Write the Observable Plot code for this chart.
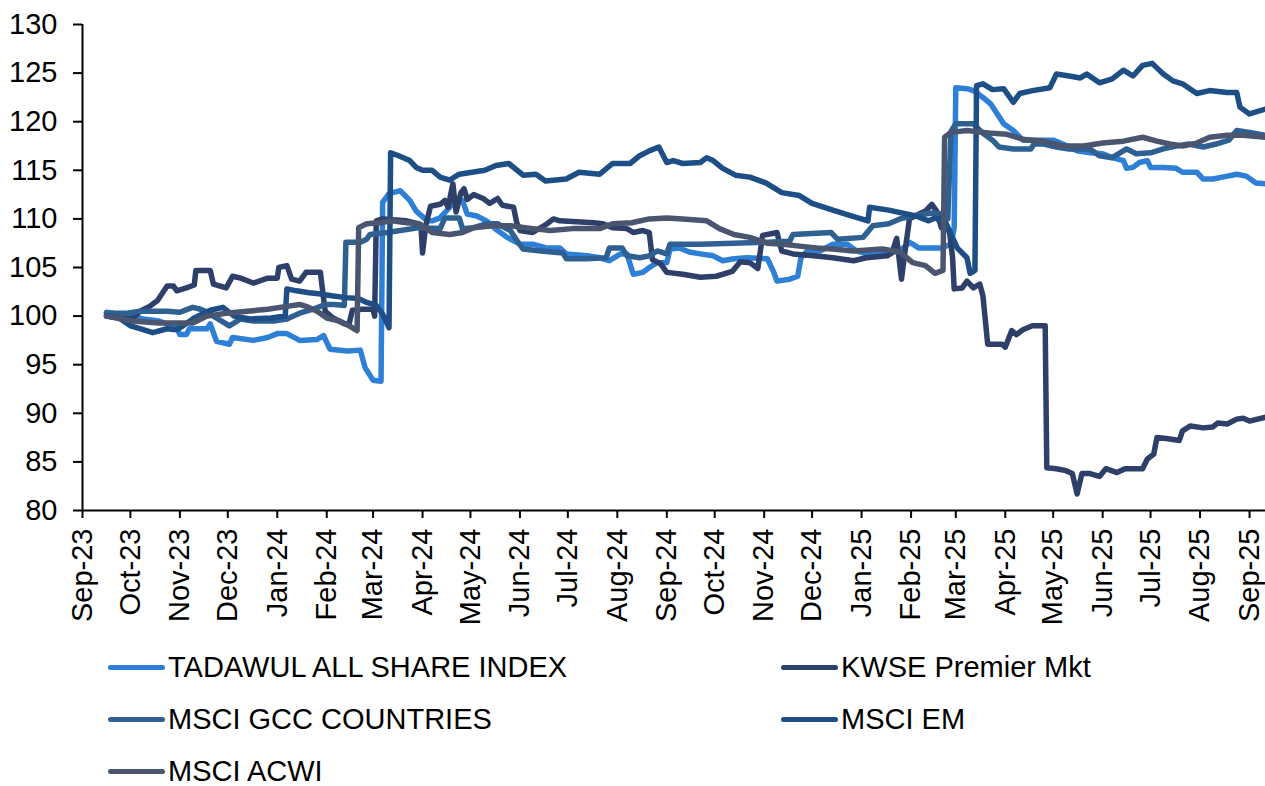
<!DOCTYPE html>
<html>
<head>
<meta charset="utf-8">
<script src="https://cdn.jsdelivr.net/npm/d3@7"></script>
<script src="https://cdn.jsdelivr.net/npm/@observablehq/plot@0.6"></script>
<style>
  body { margin: 0; background: #fff; }
  #chart { width: 1265px; font-family: "Liberation Sans", Arial, sans-serif; }
  .legend { display: grid; grid-template-columns: 673px auto; padding-left: 108px; padding-top: 1px; }
  .item { display: flex; align-items: center; height: 52px; font-size: 29px; line-height: 29px; color: #000; white-space: nowrap; }
  .sw { display: inline-block; width: 57px; height: 5px; border-radius: 3px; margin-right: 3px; }
</style>
</head>
<body>
<div id="chart"></div>
<script>
const seriesNames = ["TADAWUL ALL SHARE INDEX", "KWSE Premier Mkt", "MSCI GCC COUNTRIES", "MSCI EM", "MSCI ACWI"];
const seriesColors = ["#2E7FD6", "#2E3F6A", "#2E6192", "#1D4F86", "#4A5670"];

const tadawul = [
["2023-09-16",100.4],["2023-09-24",100.2],["2023-10-02",100.0],["2023-10-09",99.7],["2023-10-19",99.5],["2023-10-30",98.8],["2023-11-01",98.1],["2023-11-05",98.1],["2023-11-07",98.7],["2023-11-18",98.7],["2023-11-20",99.2],["2023-11-24",97.4],["2023-12-02",97.1],["2023-12-04",97.8],["2023-12-17",97.5],["2023-12-26",97.8],["2024-01-01",98.2],["2024-01-07",98.2],["2024-01-15",97.5],["2024-01-26",97.6],["2024-01-30",98.0],["2024-02-03",96.6],["2024-02-14",96.4],["2024-02-22",96.5],["2024-02-25",94.7],["2024-03-01",93.4],["2024-03-06",93.3],["2024-03-07",111.7],["2024-03-11",112.6],["2024-03-18",112.9],["2024-03-24",111.9],["2024-03-28",110.8],["2024-04-04",109.8],["2024-04-07",109.8],["2024-04-12",110.1],["2024-04-18",111.2],["2024-04-22",111.9],["2024-04-26",111.9],["2024-04-29",110.5],["2024-05-05",110.3],["2024-05-11",109.8],["2024-05-18",108.8],["2024-05-24",108.1],["2024-06-01",107.4],["2024-06-09",107.4],["2024-06-18",107.0],["2024-06-26",107.0],["2024-06-30",106.4],["2024-07-13",106.2],["2024-07-21",106.0],["2024-07-27",105.7],["2024-08-03",106.4],["2024-08-07",106.4],["2024-08-11",104.3],["2024-08-17",104.5],["2024-08-21",105.0],["2024-08-26",105.5],["2024-09-01",105.5],["2024-09-03",106.9],["2024-09-09",107.0],["2024-09-15",106.6],["2024-09-22",106.4],["2024-09-30",106.2],["2024-10-06",105.7],["2024-10-13",105.9],["2024-10-21",106.0],["2024-11-03",105.9],["2024-11-07",104.5],["2024-11-09",103.6],["2024-11-17",103.8],["2024-11-22",104.1],["2024-11-24",106.0],["2024-11-28",106.7],["2024-12-06",106.7],["2024-12-14",107.4],["2024-12-23",107.4],["2024-12-29",106.7],["2025-01-04",106.4],["2025-01-17",106.5],["2025-01-25",106.7],["2025-01-31",107.6],["2025-02-02",107.4],["2025-02-06",107.0],["2025-02-20",107.0],["2025-02-26",107.4],["2025-02-28",109.1],["2025-03-01",123.5],["2025-03-08",123.4],["2025-03-12",123.2],["2025-03-18",122.5],["2025-03-23",121.8],["2025-03-27",120.8],["2025-03-31",119.8],["2025-04-06",119.1],["2025-04-12",118.1],["2025-05-01",118.1],["2025-05-07",117.7],["2025-05-16",117.0],["2025-05-24",116.8],["2025-06-01",116.7],["2025-06-07",116.3],["2025-06-14",116.0],["2025-06-16",115.2],["2025-06-20",115.3],["2025-06-24",115.8],["2025-06-29",116.0],["2025-07-01",115.3],["2025-07-09",115.3],["2025-07-17",115.2],["2025-07-21",114.8],["2025-07-30",114.8],["2025-08-03",114.1],["2025-08-09",114.1],["2025-08-15",114.3],["2025-08-24",114.6],["2025-08-30",114.4],["2025-09-05",113.7],["2025-09-11",113.6]
];

const kwse = [
["2023-09-16",100.0],["2023-09-24",99.8],["2023-10-02",99.7],["2023-10-07",100.5],["2023-10-13",101.0],["2023-10-18",101.6],["2023-10-24",103.1],["2023-10-28",103.1],["2023-10-30",102.6],["2023-11-05",102.9],["2023-11-10",103.2],["2023-11-11",104.7],["2023-11-20",104.7],["2023-11-22",103.3],["2023-11-30",102.9],["2023-12-04",104.1],["2023-12-09",103.9],["2023-12-17",103.4],["2023-12-26",103.9],["2024-01-01",103.9],["2024-01-02",105.0],["2024-01-07",105.2],["2024-01-10",103.8],["2024-01-15",103.6],["2024-01-19",104.5],["2024-01-28",104.5],["2024-01-31",100.5],["2024-02-05",99.8],["2024-02-12",99.2],["2024-02-15",99.2],["2024-02-17",100.6],["2024-02-23",100.7],["2024-03-01",100.7],["2024-03-02",100.0],["2024-03-03",109.8],["2024-03-07",110.0],["2024-03-22",109.8],["2024-03-29",109.5],["2024-03-31",109.3],["2024-04-01",106.5],["2024-04-03",109.3],["2024-04-06",111.3],["2024-04-12",111.5],["2024-04-15",111.9],["2024-04-17",111.2],["2024-04-20",113.6],["2024-04-22",110.7],["2024-04-25",112.7],["2024-04-27",113.1],["2024-04-29",112.0],["2024-05-03",112.5],["2024-05-09",112.1],["2024-05-13",111.6],["2024-05-18",112.1],["2024-05-21",111.4],["2024-05-28",111.2],["2024-05-30",109.6],["2024-06-01",108.8],["2024-06-09",108.6],["2024-06-18",109.5],["2024-06-22",110.0],["2024-06-26",109.8],["2024-07-17",109.6],["2024-07-23",109.5],["2024-07-29",109.1],["2024-08-07",109.0],["2024-08-11",108.6],["2024-08-17",108.8],["2024-08-21",108.6],["2024-08-23",105.8],["2024-08-28",105.4],["2024-09-01",104.5],["2024-09-11",104.3],["2024-09-22",104.0],["2024-10-02",104.1],["2024-10-12",104.6],["2024-10-17",105.6],["2024-10-23",105.5],["2024-10-28",104.9],["2024-10-31",108.3],["2024-11-06",108.5],["2024-11-09",108.6],["2024-11-12",106.7],["2024-11-19",106.4],["2024-12-02",106.2],["2024-12-14",106.0],["2024-12-27",105.7],["2025-01-04",106.0],["2025-01-17",106.2],["2025-01-20",106.5],["2025-01-23",108.0],["2025-01-26",103.8],["2025-01-28",106.4],["2025-01-31",110.0],["2025-02-06",110.5],["2025-02-10",110.8],["2025-02-14",111.5],["2025-02-17",110.8],["2025-02-20",109.1],["2025-02-25",108.8],["2025-02-27",106.0],["2025-02-28",102.8],["2025-03-05",102.9],["2025-03-08",103.6],["2025-03-12",102.9],["2025-03-16",103.3],["2025-03-18",102.1],["2025-03-21",97.1],["2025-03-30",97.1],["2025-04-01",96.8],["2025-04-05",98.5],["2025-04-08",98.1],["2025-04-12",98.6],["2025-04-18",99.0],["2025-04-26",99.0],["2025-04-27",84.4],["2025-05-03",84.3],["2025-05-09",84.1],["2025-05-13",83.8],["2025-05-16",81.7],["2025-05-19",83.8],["2025-05-24",83.8],["2025-05-30",83.5],["2025-06-03",84.3],["2025-06-10",83.9],["2025-06-15",84.3],["2025-06-26",84.3],["2025-06-29",85.3],["2025-07-03",85.8],["2025-07-05",87.5],["2025-07-11",87.4],["2025-07-19",87.2],["2025-07-21",88.2],["2025-07-26",88.7],["2025-08-03",88.5],["2025-08-09",88.6],["2025-08-12",89.0],["2025-08-18",88.9],["2025-08-24",89.4],["2025-08-28",89.5],["2025-09-01",89.2],["2025-09-11",89.6]
];

const gcc = [
["2023-09-16",100.3],["2023-09-29",100.3],["2023-10-07",100.5],["2023-10-24",100.5],["2023-11-01",100.4],["2023-11-09",100.9],["2023-11-14",100.7],["2023-11-20",100.3],["2023-11-22",100.0],["2023-12-02",99.0],["2023-12-09",99.7],["2023-12-17",99.5],["2023-12-30",99.5],["2024-01-07",99.7],["2024-01-15",100.3],["2024-01-25",100.8],["2024-01-31",101.2],["2024-02-06",101.2],["2024-02-12",101.1],["2024-02-13",107.6],["2024-02-22",107.6],["2024-02-26",107.9],["2024-02-28",108.4],["2024-03-10",108.6],["2024-03-18",108.8],["2024-03-30",109.1],["2024-04-12",109.0],["2024-04-15",110.1],["2024-04-24",110.1],["2024-04-26",109.0],["2024-05-03",109.1],["2024-05-11",109.5],["2024-05-18",109.5],["2024-05-26",108.8],["2024-05-30",107.8],["2024-06-03",106.9],["2024-06-14",106.7],["2024-06-28",106.5],["2024-06-30",105.9],["2024-07-13",105.9],["2024-07-25",106.0],["2024-07-27",107.0],["2024-08-04",107.0],["2024-08-07",106.2],["2024-08-15",106.0],["2024-08-21",106.2],["2024-08-26",106.7],["2024-09-01",106.4],["2024-09-03",107.4],["2024-09-22",107.4],["2024-10-13",107.5],["2024-11-03",107.6],["2024-11-17",107.7],["2024-11-19",108.4],["2024-12-13",108.6],["2024-12-17",107.9],["2025-01-02",108.1],["2025-01-08",109.3],["2025-01-18",109.5],["2025-01-25",110.0],["2025-02-02",110.3],["2025-02-14",110.6],["2025-02-20",110.5],["2025-02-24",110.0],["2025-02-26",119.0],["2025-03-01",119.8],["2025-03-12",119.8],["2025-03-18",118.8],["2025-03-24",118.1],["2025-03-28",117.4],["2025-04-06",117.2],["2025-04-17",117.2],["2025-04-19",117.7],["2025-04-25",117.7],["2025-05-03",117.4],["2025-05-11",117.2],["2025-05-24",117.2],["2025-05-30",116.5],["2025-06-07",116.3],["2025-06-16",117.2],["2025-06-22",116.7],["2025-07-01",116.8],["2025-07-09",117.2],["2025-07-17",117.5],["2025-07-25",117.7],["2025-08-03",117.4],["2025-08-11",117.7],["2025-08-19",118.1],["2025-08-24",119.1],["2025-09-01",118.9],["2025-09-11",118.6]
];

const em = [
["2023-09-16",100.0],["2023-09-23",99.9],["2023-10-01",99.0],["2023-10-07",98.7],["2023-10-15",98.3],["2023-10-24",98.7],["2023-10-30",98.6],["2023-11-03",99.0],["2023-11-10",99.8],["2023-11-20",100.6],["2023-11-28",100.9],["2023-12-05",100.0],["2023-12-15",99.7],["2023-12-28",99.8],["2024-01-06",100.0],["2024-01-07",102.8],["2024-01-13",102.6],["2024-01-21",102.4],["2024-01-27",102.3],["2024-02-04",102.1],["2024-02-13",101.9],["2024-02-21",101.8],["2024-02-26",101.4],["2024-03-03",101.1],["2024-03-07",100.2],["2024-03-11",98.8],["2024-03-12",116.8],["2024-03-17",116.5],["2024-03-24",116.0],["2024-03-28",115.3],["2024-04-01",115.0],["2024-04-07",115.0],["2024-04-12",114.3],["2024-04-18",114.0],["2024-04-24",114.6],["2024-05-02",114.8],["2024-05-10",115.0],["2024-05-17",115.5],["2024-05-25",115.7],["2024-06-03",114.5],["2024-06-11",114.6],["2024-06-17",113.9],["2024-06-30",114.1],["2024-07-08",114.8],["2024-07-21",114.6],["2024-07-29",115.7],["2024-08-09",115.7],["2024-08-15",116.5],["2024-08-21",117.0],["2024-08-27",117.4],["2024-09-01",115.8],["2024-09-05",116.0],["2024-09-11",115.7],["2024-09-22",115.8],["2024-09-26",116.3],["2024-09-30",116.0],["2024-10-06",115.2],["2024-10-14",114.5],["2024-10-23",114.3],["2024-11-02",113.7],["2024-11-12",112.7],["2024-11-23",112.4],["2024-12-01",111.6],["2024-12-14",110.9],["2024-12-24",110.4],["2025-01-05",109.8],["2025-01-06",111.2],["2025-01-18",110.9],["2025-02-04",110.3],["2025-02-12",109.8],["2025-02-16",110.1],["2025-02-23",109.5],["2025-03-02",107.0],["2025-03-08",106.0],["2025-03-10",104.4],["2025-03-13",104.7],["2025-03-14",123.7],["2025-03-18",123.9],["2025-03-24",123.3],["2025-03-31",123.4],["2025-04-06",122.0],["2025-04-10",122.9],["2025-04-18",123.2],["2025-04-29",123.5],["2025-05-03",124.9],["2025-05-11",124.7],["2025-05-18",124.5],["2025-05-22",124.9],["2025-05-30",124.0],["2025-06-07",124.4],["2025-06-14",125.3],["2025-06-20",124.7],["2025-06-26",125.8],["2025-07-02",126.0],["2025-07-09",124.9],["2025-07-15",124.2],["2025-07-21",123.9],["2025-07-30",122.9],["2025-08-07",123.2],["2025-08-18",123.0],["2025-08-24",123.0],["2025-08-26",121.5],["2025-09-01",120.8],["2025-09-11",121.3]
];

const acwi = [
["2023-09-16",100.0],["2023-10-02",99.5],["2023-10-19",99.3],["2023-11-09",99.3],["2023-11-18",100.0],["2023-11-30",100.3],["2023-12-13",100.5],["2023-12-26",100.7],["2024-01-07",101.0],["2024-01-15",101.2],["2024-01-19",101.0],["2024-01-26",100.5],["2024-02-01",99.8],["2024-02-09",99.5],["2024-02-15",99.0],["2024-02-20",98.5],["2024-02-21",109.1],["2024-02-26",109.5],["2024-03-05",109.6],["2024-03-13",109.8],["2024-03-22",109.6],["2024-03-30",109.5],["2024-04-07",108.6],["2024-04-18",108.4],["2024-04-26",108.6],["2024-05-03",109.1],["2024-05-15",109.3],["2024-05-26",109.3],["2024-06-09",109.0],["2024-06-20",108.8],["2024-07-04",109.0],["2024-07-21",109.0],["2024-07-29",109.5],["2024-08-10",109.6],["2024-08-21",110.0],["2024-09-01",110.1],["2024-09-11",110.0],["2024-09-26",109.8],["2024-10-04",109.0],["2024-10-13",108.4],["2024-10-23",108.1],["2024-11-03",107.5],["2024-11-13",107.4],["2024-11-23",107.2],["2024-12-04",107.0],["2024-12-14",106.9],["2024-12-27",106.7],["2025-01-14",106.9],["2025-01-25",106.6],["2025-02-02",105.5],["2025-02-10",105.2],["2025-02-16",104.4],["2025-02-21",104.7],["2025-02-22",118.4],["2025-02-26",118.9],["2025-03-08",119.1],["2025-03-24",118.8],["2025-04-02",118.7],["2025-04-12",118.2],["2025-04-25",118.0],["2025-05-07",117.5],["2025-05-20",117.5],["2025-06-01",117.8],["2025-06-14",118.0],["2025-06-26",118.4],["2025-07-05",118.0],["2025-07-13",117.7],["2025-07-21",117.5],["2025-07-30",117.8],["2025-08-07",118.4],["2025-08-18",118.6],["2025-08-28",118.6],["2025-09-11",118.4]
];

const yTicks = [80, 85, 90, 95, 100, 105, 110, 115, 120, 125, 130];
const xTickDates = ["2023-09-01","2023-10-01","2023-11-01","2023-12-01","2024-01-01","2024-02-01","2024-03-01","2024-04-01","2024-05-01","2024-06-01","2024-07-01","2024-08-01","2024-09-01","2024-10-01","2024-11-01","2024-12-01","2025-01-01","2025-02-01","2025-03-01","2025-04-01","2025-05-01","2025-06-01","2025-07-01","2025-08-01","2025-09-01"];
const xStart = "2023-09-01";
const xEnd = "2025-09-11";

const allSeries = [tadawul, kwse, gcc, em, acwi];
const rows = allSeries.flatMap((s, i) => s.map(([d, v]) => ({date: new Date(d), value: v, series: seriesNames[i]})));

const fmt = d3.utcFormat("%b-%y");
const plot = Plot.plot({
  width: 1265,
  height: 640,
  marginLeft: 82,
  marginRight: 0,
  marginTop: 24,
  marginBottom: 130,
  style: {fontFamily: "'Liberation Sans', Arial, sans-serif", fontSize: "29px", color: "#000", background: "#fff", overflow: "visible"},
  x: {type: "utc", domain: [new Date(xStart), new Date(xEnd)]},
  y: {domain: [80, 130]},
  color: {domain: seriesNames, range: seriesColors},
  marks: [
    Plot.axisY({ticks: yTicks, tickSize: 9, tickPadding: 16, strokeWidth: 2, label: null, tickFormat: d => String(d), fill: "#000"}),
    Plot.axisX({ticks: xTickDates.map(d => new Date(d)), tickFormat: fmt, tickRotate: -90, tickSize: 8, tickPadding: 10, strokeWidth: 2, label: null, fill: "#000"}),
    Plot.ruleX([new Date(xStart)], {stroke: "#000", strokeWidth: 2}),
    Plot.ruleY([80], {stroke: "#000", strokeWidth: 2}),
    Plot.lineY(rows, {x: "date", y: "value", z: "series", stroke: "series", strokeWidth: 5.5, strokeLinejoin: "round", strokeLinecap: "round"})
  ]
});

const chart = document.getElementById("chart");
chart.appendChild(plot);

const legend = document.createElement("div");
legend.className = "legend";
seriesNames.forEach((name, i) => {
  const item = document.createElement("div");
  item.className = "item";
  const sw = document.createElement("span");
  sw.className = "sw";
  sw.style.background = seriesColors[i];
  item.appendChild(sw);
  item.appendChild(document.createTextNode(name));
  legend.appendChild(item);
});
chart.appendChild(legend);
</script>
</body>
</html>
